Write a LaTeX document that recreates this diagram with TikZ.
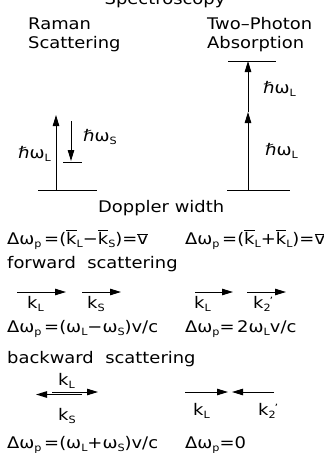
\documentclass[tikz,border=0pt]{standalone}
\usepackage{fontspec}
\setmainfont[FakeStretch=1.12]{DejaVu Sans}
\usetikzlibrary{arrows.meta}
\newcommand{\sbs}[1]{\raisebox{-0.45ex}{\fontsize{10}{10}\selectfont #1}}
\newcommand{\prm}{\kern-1pt\raisebox{4pt}{\fontsize{10}{10}\selectfont\char"0027}}
\newcommand{\kbar}{$\overline{\mbox{k}}$}
\newcommand{\vbar}{$\overline{\mbox{v}}$}
\begin{document}
\begin{tikzpicture}[x=1pt,y=-1pt,
  txt/.style={anchor=base west,inner sep=0pt,font=\fontsize{16}{18}\selectfont},
  lvl/.style={line width=0.9pt},
  arr/.style={line width=1pt,-{Triangle[length=11pt,width=6.5pt]}}]
\useasboundingbox (0,0) rectangle (324,453);
\begin{scope}
\clip (0,0) rectangle (324,453);
\node[txt,anchor=base] (title) at (165,4.5) {Spectroscopy};
\node[txt] (raman1) at (28,29) {Raman};
\node[txt] (raman2) at (28,48) {Scattering};
\node[txt] (tp1) at (207,29) {Two–Photon};
\node[txt] (tp2) at (207,48) {Absorption};
% Raman levels
\coordinate (rb0) at (38,190); \coordinate (rb1) at (97,190);
\coordinate (rv0) at (56,190); \coordinate (rv1) at (56,115);
\coordinate (rd0) at (71,121); \coordinate (rd1) at (71,161);
\coordinate (rs0) at (63,162); \coordinate (rs1) at (82,162);
\draw[lvl] (rb0) -- (rb1);
\draw[lvl] (rs0) -- (rs1);
\draw[arr] (rv0) -- (rv1);
\draw[arr] (rd0) -- (rd1);
\node[txt] (hws) at (83,141) {ℏω\sbs{S}};
\node[txt] (hwl1) at (18,158) {ℏω\sbs{L}};
% Two-photon levels
\coordinate (tb0) at (227,190); \coordinate (tb1) at (290,190);
\coordinate (tt0) at (228,61); \coordinate (tt1) at (276,61);
\coordinate (tv0) at (248,190); \coordinate (tvm) at (248,112); \coordinate (tv1) at (248,61);
\draw[lvl] (tb0) -- (tb1);
\draw[lvl] (tt0) -- (tt1);
\draw[arr] (tv0) -- (tvm);
\draw[arr] (tvm) -- (tv1);
\node[txt] (hwl2) at (263,93) {ℏω\sbs{L}};
\node[txt] (hwl3) at (265,155) {ℏω\sbs{L}};
\node[txt] (dw) at (98,212) {Doppler width};
\node[txt] (eq1) at (7,244) {Δω\sbs{p}\,=(\kbar\sbs{L}−\kbar\sbs{S})=\vbar};
\node[txt] (eq2) at (185,244) {Δω\sbs{p}\,=(\kbar\sbs{L}+\kbar\sbs{L})=\vbar};
% forward
\node[txt] (fwd) at (7,268) {forward\ \ scattering};
\coordinate (f1a) at (17,292); \coordinate (f1b) at (66,292);
\coordinate (f2a) at (82,292); \coordinate (f2b) at (121,292);
\coordinate (f3a) at (195,292); \coordinate (f3b) at (233,292);
\coordinate (f4a) at (247,292); \coordinate (f4b) at (286,292);
\draw[arr] (f1a) -- (f1b);
\draw[arr] (f2a) -- (f2b);
\draw[arr] (f3a) -- (f3b);
\draw[arr] (f4a) -- (f4b);
\node[txt] (fk1) at (27,308) {k\sbs{L}};
\node[txt] (fk2) at (87,308) {k\sbs{S}};
\node[txt] (fk3) at (194,308) {k\sbs{L}};
\node[txt] (fk4) at (253,308) {k\sbs{2}\prm};
\node[txt] (eq3) at (7,332) {Δω\sbs{p}\,=(ω\sbs{L}−ω\sbs{S})v/c};
\node[txt] (eq4) at (185,332) {Δω\sbs{p}=\,2ω\sbs{L}v/c};
% backward
\node[txt] (bwd) at (7,363) {backward\ \ scattering};
\coordinate (b1a) at (52,392); \coordinate (b1b) at (98,392);
\coordinate (b2a) at (82,394.5); \coordinate (b2b) at (36,394.5);
\coordinate (b3a) at (185,392); \coordinate (b3b) at (228,392);
\coordinate (b4a) at (274,392); \coordinate (b4b) at (232,392);
\draw[arr] (b1a) -- (b1b);
\draw[arr] (b2a) -- (b2b);
\draw[arr] (b3a) -- (b3b);
\draw[arr] (b4a) -- (b4b);
\node[txt] (bk1) at (58,385) {k\sbs{L}};
\node[txt] (bk2) at (58,420) {k\sbs{S}};
\node[txt] (bk3) at (193,415) {k\sbs{L}};
\node[txt] (bk4) at (258,415) {k\sbs{2}\prm};
\node[txt] (eq5) at (7,448) {Δω\sbs{p}\,=(ω\sbs{L}+ω\sbs{S})v/c};
\node[txt] (eq6) at (185,448) {Δω\sbs{p}=0};
\end{scope}
\end{tikzpicture}
\end{document}
